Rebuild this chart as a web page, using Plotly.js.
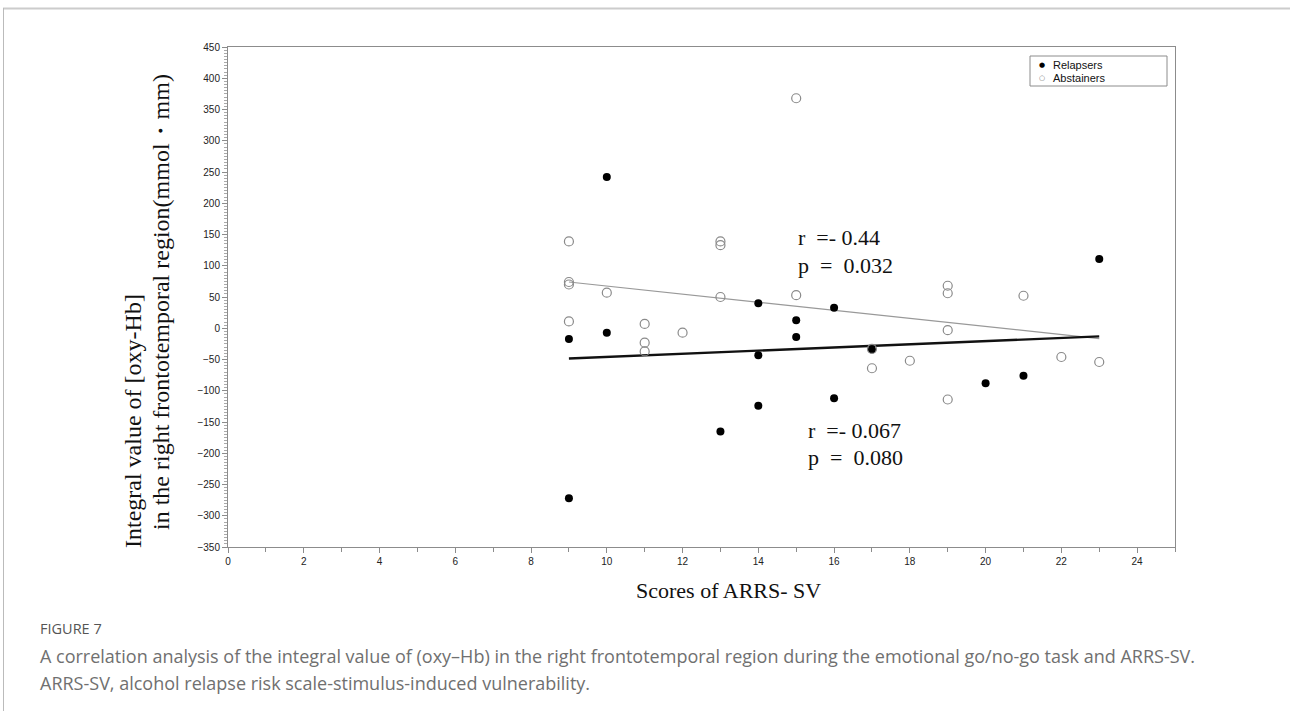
<!DOCTYPE html>
<html>
<head>
<meta charset="utf-8">
<script src="https://cdn.plot.ly/plotly-3.0.1.min.js"></script>
<style>
  html, body { margin: 0; padding: 0; background: #fff; }
  #chart { width: 1290px; height: 711px; }
</style>
</head>
<body>
<div id="chart"></div>
<script>
// ---- Data ----
const relapsersX = [9, 9, 10, 10, 13, 14, 14, 14, 15, 15, 16, 16, 17, 20, 21, 23];
const relapsersY = [-272, -17, 242, -7, -165, 40, -43, -124, 13, -14, 33, -112, -34, -88, -76, 111];

const abstainersX = [9, 9, 9, 9, 10, 11, 11, 11, 12, 13, 13, 13, 15, 15, 17, 17, 18, 19, 19, 19, 19, 21, 22, 23];
const abstainersY = [139, 74, 70, 11, 57, 7, -23, -37, -7, 139, 133, 50, 368, 53, -64, -33, -52, 68, 56, -3, -114, 52, -46, -54];

// fitted regression lines (end points)
const fitX = [9, 23];
const fitRelapsersY = [-48.5, -13];
const fitAbstainersY = [74, -16.5];

const seriesNames = ['Relapsers', 'Abstainers'];
const xTitle = 'Scores of ARRS- SV';
const yTitleLine1 = 'Integral value of [oxy-Hb]';
const yTitleLine2 = 'in the right frontotemporal region(mmol\u30FBmm)';
const statsAbst = ['r\u00a0\u00a0=-\u00a00.44', 'p\u00a0\u00a0=\u00a0\u00a00.032'];
const statsRel = ['r\u00a0\u00a0=-\u00a00.067', 'p\u00a0\u00a0=\u00a0\u00a00.080'];
const captionHead = 'FIGURE 7';
const captionLines = [
  'A correlation analysis of the integral value of (oxy\u2013Hb) in the right frontotemporal region during the emotional go/no-go task and ARRS-SV.',
  'ARRS-SV, alcohol relapse risk scale-stimulus-induced vulnerability.'
];

// ---- Layout helpers (pixel -> paper) ----
const L = 228, R = 1175, T = 47, B = 547;
const px = x => (x - L) / (R - L);
const py = y => (B - y) / (B - T);

const serifFam = 'Liberation Serif, Times New Roman, serif';
const statFont = { family: serifFam, size: 22, color: '#111' };
const xTitleFont = { family: serifFam, size: 22, color: '#111' };
const yTitleFont = { family: serifFam, size: 24, color: '#111' };
const capFont = { family: 'Open Sans, Lato, sans-serif', size: 18, color: '#707070' };
const legFont = { family: 'Liberation Sans, Arial, sans-serif', size: 11, color: '#111' };

const traces = [
  {
    x: fitX, y: fitAbstainersY, mode: 'lines', showlegend: false, hoverinfo: 'skip',
    line: { color: '#999', width: 1.2 }
  },
  {
    x: fitX, y: fitRelapsersY, mode: 'lines', showlegend: false, hoverinfo: 'skip',
    line: { color: '#111', width: 2.4 }
  },
  {
    x: relapsersX, y: relapsersY, mode: 'markers', name: seriesNames[0], showlegend: false,
    marker: { symbol: 'circle', size: 8, color: '#000' }
  },
  {
    x: abstainersX, y: abstainersY, mode: 'markers', name: seriesNames[1], showlegend: false,
    marker: { symbol: 'circle-open', size: 9, color: '#8a8a8a', line: { width: 1.2, color: '#8a8a8a' } }
  }
];

const axisCommon = {
  showgrid: false, zeroline: false, showline: true, linecolor: '#8c8c8c', linewidth: 1,
  mirror: true, ticks: 'outside', tickcolor: '#8c8c8c', ticklen: 5, tickwidth: 1,
  tickfont: { family: 'Liberation Sans, Arial, sans-serif', size: 10, color: '#222' }
};

const ann = (x, y, text, font, extra) => Object.assign({
  xref: 'paper', yref: 'paper', x: px(x), y: py(y), text: text, showarrow: false,
  xanchor: 'left', yanchor: 'middle', font: font
}, extra || {});

const layout = {
  width: 1290, height: 711,
  margin: { l: L, r: 1290 - R, t: T, b: 711 - B, pad: 0 },
  paper_bgcolor: '#fff', plot_bgcolor: '#fff',
  showlegend: false,
  xaxis: Object.assign({}, axisCommon, {
    range: [0, 25], dtick: 2, tick0: 0,
    minor: { dtick: 1, ticks: 'outside', ticklen: 4, tickcolor: '#8c8c8c' }
  }),
  yaxis: Object.assign({}, axisCommon, {
    range: [-350, 450], dtick: 50, tick0: 0, ticklen: 5,
    minor: { dtick: 5, ticks: 'outside', ticklen: 3, tickcolor: '#aaa' }
  }),
  annotations: [
    ann(728, 590, xTitle, xTitleFont, { xanchor: 'center' }),
    ann(133, 421, yTitleLine1, yTitleFont, { xanchor: 'center', textangle: -90 }),
    ann(161, 302, yTitleLine2, yTitleFont, { xanchor: 'center', textangle: -90 }),
    ann(796, 237, statsAbst[0], statFont),
    ann(796, 265, statsAbst[1], statFont),
    ann(806, 430, statsRel[0], statFont),
    ann(806, 457, statsRel[1], statFont),
    // legend (drawn manually to match the compact original)
    ann(1037, 64.5, '\u25CF', { family: 'DejaVu Sans, sans-serif', size: 7, color: '#000' }),
    ann(1037, 77.5, '\u25CB', { family: 'DejaVu Sans, sans-serif', size: 7, color: '#777' }),
    ann(1051, 64.5, seriesNames[0], legFont),
    ann(1051, 77.5, seriesNames[1], legFont),
    // caption
    ann(38, 628, captionHead, { family: 'Open Sans, sans-serif', size: 14.5, color: '#555' }),
    ann(38, 656, captionLines[0], capFont),
    ann(38, 683, captionLines[1], capFont)
  ],
  shapes: [
    { type: 'rect', xref: 'paper', yref: 'paper', x0: px(1030), x1: px(1167), y0: py(56), y1: py(86),
      line: { color: '#8c8c8c', width: 1 }, fillcolor: 'rgba(0,0,0,0)' },
    { type: 'line', xref: 'paper', yref: 'paper', x0: px(3), x1: px(1290), y0: py(8.5), y1: py(8.5),
      line: { color: '#cccccc', width: 2 } },
    { type: 'line', xref: 'paper', yref: 'paper', x0: px(3.5), x1: px(3.5), y0: py(8), y1: py(711),
      line: { color: '#bbbbbb', width: 1 } }
  ]
};

Plotly.newPlot('chart', traces, layout, { displayModeBar: false, staticPlot: true });
</script>
</body>
</html>
